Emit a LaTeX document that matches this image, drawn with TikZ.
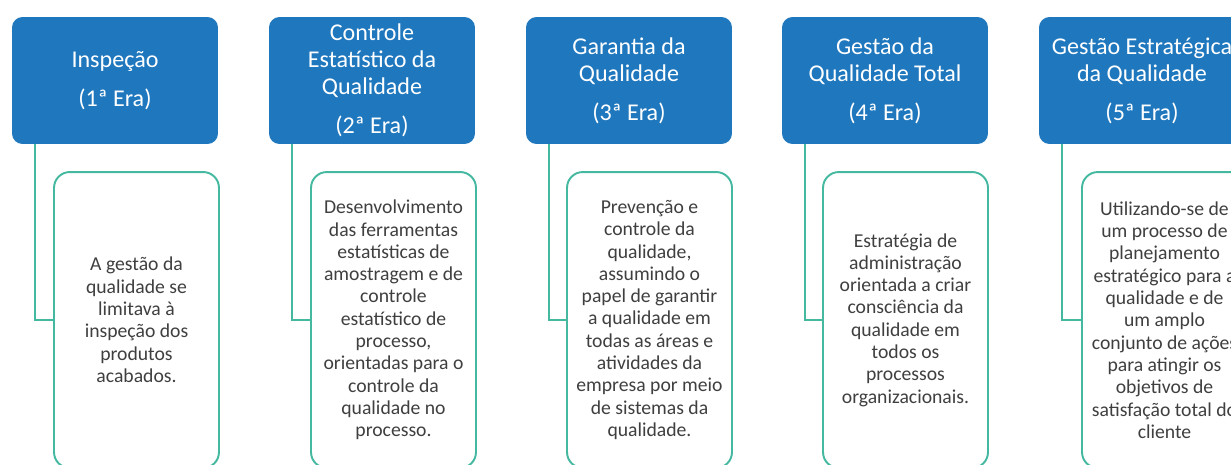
\documentclass[tikz,border=0pt]{standalone}
\usepackage{fontspec}
\setmainfont{Carlito}
\usepackage{xcolor}

\definecolor{erablue}{HTML}{1F77BE}
\definecolor{descteal}{HTML}{45B9A0}
\definecolor{descgray}{HTML}{3F3F3F}

\begin{document}
\begin{tikzpicture}[
  x=0.02cm, y=-0.02cm,
  era/.style={
    fill=erablue, draw=none, rectangle, rounded corners=6pt,
    minimum width=4.12cm, minimum height=2.54cm,
    text=white, align=center, inner sep=2pt,
    font=\fontsize{13.7}{15.4}\selectfont
  },
  desc/.style={
    draw=descteal, line width=1.1pt, fill=white, rectangle, rounded corners=9pt,
    minimum width=3.3cm, minimum height=5.92cm,
    text=descgray, align=center, inner sep=2pt,
    font=\fontsize{11.2}{12.7}\selectfont
  },
  link/.style={draw=descteal, line width=1.1pt},
]
\useasboundingbox (0,0) rectangle (1231,464);

% eras
\node[era] (e1) at (115, 80.5)  {Inspeção\\[6.8pt](1ª Era)};
\node[era] (e2) at (372, 80.5)  {Controle\\Estatístico da\\Qualidade\\[6.8pt](2ª Era)};
\node[era] (e3) at (629, 80.5)  {Garantia da\\Qualidade\\[6.8pt](3ª Era)};
\node[era] (e4) at (885, 80.5)  {Gestão da\\Qualidade Total\\[6.8pt](4ª Era)};
\node[era] (e5) at (1142, 80.5) {Gestão Estratégica\\da Qualidade\\[6.8pt](5ª Era)};

% descriptions
\node[desc] (d1) at (136.5, 320) {A gestão da\\qualidade se\\limitava à\\inspeção dos\\produtos\\acabados.};
\node[desc] (d2) at (393.5, 320) {Desenvolvimento\\das ferramentas\\estatísticas de\\amostragem e de\\controle\\estatístico de\\processo,\\orientadas para o\\controle da\\qualidade no\\processo.};
\node[desc] (d3) at (649.5, 320) {Prevenção e\\controle da\\qualidade,\\assumindo o\\papel de garantir\\a qualidade em\\todas as áreas e\\atividades da\\empresa por meio\\de sistemas da\\qualidade.};
\node[desc] (d4) at (905.5, 320) {Estratégia de\\administração\\orientada a criar\\consciência da\\qualidade em\\todos os\\processos\\organizacionais.};
\node[desc] (d5) at (1164.5, 320) {Utilizando-se de\\um processo de\\planejamento\\estratégico para a\\qualidade e de\\um amplo\\conjunto de ações\\para atingir os\\objetivos de\\satisfação total do\\cliente};

% links
\foreach \i in {1,...,5}
  \draw[link] ([xshift=0.46cm]e\i.south west) |- (d\i.west);

\end{tikzpicture}
\end{document}
